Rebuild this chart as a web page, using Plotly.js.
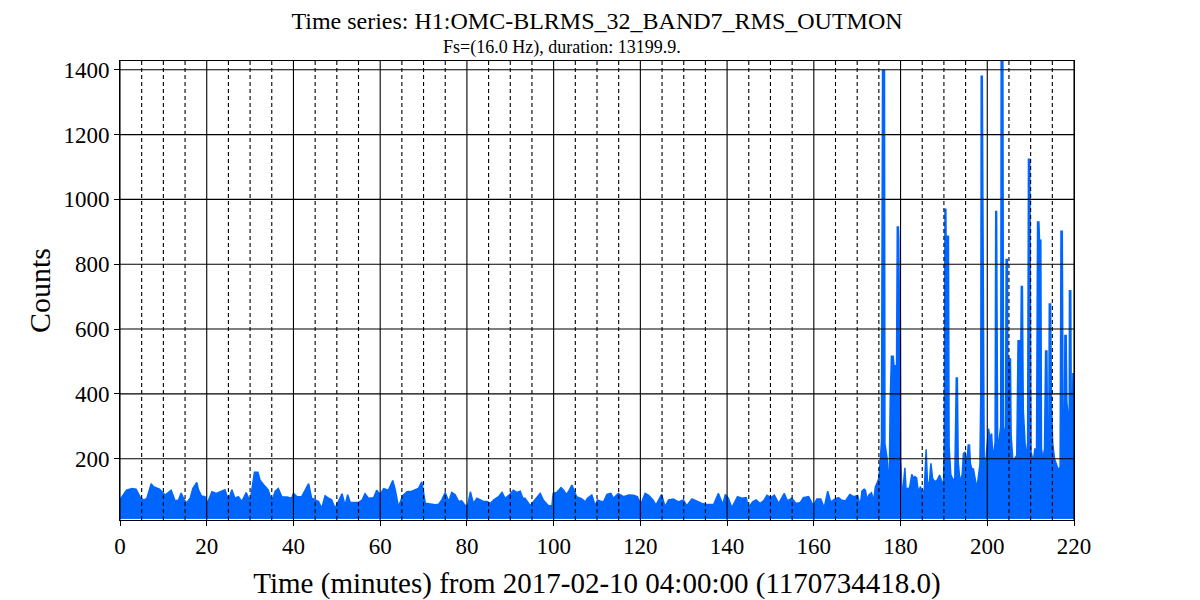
<!DOCTYPE html>
<html>
<head>
<meta charset="utf-8">
<script src="https://cdn.plot.ly/plotly-3.0.1.min.js"></script>
<style>html,body{margin:0;padding:0;background:#fff}#chart{width:1200px;height:600px}</style>
</head>
<body>
<div id="chart"></div>
<script>
// Upper envelope of the 16 Hz series (minutes, counts)
const upperTime = [
0.0,0.2,1.5,2.8,3.7,4.6,5.4,6.2,7.2,7.7,9.1,10.4,11.8,12.7,13.5,14.1,14.8,15.4,16.2,16.8,17.7,18.1,18.8,19.6,
20.1,21.2,22.2,23.1,24.2,25.0,25.8,26.5,27.3,28.1,29.1,30.0,31.0,31.8,32.3,33.5,34.2,35.0,35.8,36.5,37.3,38.5,39.6,
40.0,40.8,41.9,43.5,44.2,45.0,45.8,46.5,47.3,48.1,48.8,49.6,50.4,51.2,51.9,52.5,53.1,54.2,55.0,55.8,56.5,57.3,58.5,59.2,
60.0,60.8,61.9,62.9,63.5,64.2,65.2,66.2,67.3,68.8,69.6,70.4,71.4,72.7,73.5,74.2,75.0,75.8,76.5,77.3,78.1,78.8,79.6,
80.2,80.8,81.5,82.3,83.1,83.8,84.6,85.4,86.2,87.3,88.1,88.8,89.6,90.7,91.5,92.3,92.9,93.4,94.6,95.3,96.1,96.9,97.6,98.8,99.6,
99.9,100.7,101.7,102.3,102.9,103.4,104.2,104.7,105.3,106.5,107.3,107.8,108.8,109.6,110.1,110.7,111.5,112.3,113.2,113.8,114.9,
116.1,117.3,118.4,119.3,120.1,121.1,121.9,122.9,123.6,124.9,125.7,126.5,127.6,128.8,129.9,130.7,131.9,133.0,134.2,135.3,136.9,
138.0,139.0,139.6,140.3,141.1,142.4,143.4,144.4,144.9,145.9,146.7,147.6,148.4,149.2,150.1,150.9,151.9,153.2,153.9,154.9,155.9,
156.9,157.6,158.8,159.9,160.7,161.6,162.4,163.2,163.9,164.9,165.7,166.3,167.3,168.3,169.2,170.1,170.7,171.1,171.6,171.9,172.3,
172.7,173.3,173.8,174.2,174.7,175.0,175.3,175.6,175.85,176.3,176.4,176.6,176.9,177.2,177.4,177.6,177.9,178.3,178.5,178.9,179.0,
179.25,179.5,179.6,179.75,179.95,180.05,180.3,180.6,181.0,181.3,181.7,182.0,182.6,183.0,183.3,183.7,184.1,184.6,185.1,185.5,
185.9,186.2,186.6,187.0,187.4,187.9,188.5,189.0,189.5,189.9,190.1,190.25,190.45,190.6,190.75,191.05,191.2,191.6,192.0,192.5,
192.85,193.1,193.3,193.7,194.2,194.5,194.9,195.3,195.6,195.9,196.1,196.4,196.8,197.2,197.6,198.0,198.3,198.5,198.6,198.85,
199.0,199.15,199.3,199.7,200.1,200.3,200.6,201.0,201.3,201.8,201.95,202.15,202.4,202.8,203.1,203.2,203.6,203.75,204.2,204.35,
204.65,204.8,205.1,205.35,205.5,205.9,206.3,206.8,207.1,207.45,207.6,207.85,208.1,208.3,208.6,208.9,209.3,209.5,209.8,209.95,
210.1,210.6,211.0,211.35,211.6,211.9,212.05,212.35,212.5,212.8,213.2,213.45,213.75,213.9,214.2,214.3,214.6,214.8,215.1,215.5,
215.9,216.4,216.8,217.0,217.3,217.5,217.8,217.9,218.2,218.35,218.9,218.95,219.25,219.4,219.6,219.75,220.0
];
const upperCounts = [
70,78,103,108,106,83,72,78,123,114,106,88,103,70,73,94,73,64,79,108,127,104,85,83,
62,98,93,98,104,72,104,78,83,68,96,68,158,158,134,114,103,68,100,108,83,82,78,
93,83,83,123,78,73,68,47,86,78,73,47,70,92,57,89,65,64,65,72,92,78,80,103,
89,108,103,133,103,52,86,98,100,108,129,63,60,58,60,73,96,68,96,89,68,70,56,
56,98,62,78,73,68,68,62,73,83,96,78,86,103,96,100,78,78,55,67,80,93,73,55,55,
93,96,111,103,90,98,119,103,83,76,67,78,88,55,73,70,67,90,93,78,93,
83,88,87,83,59,93,87,73,57,90,52,73,76,67,73,55,76,70,62,59,59,
93,59,90,78,49,83,78,80,49,67,73,62,70,87,80,88,62,93,70,78,62,
65,80,83,55,76,76,49,100,67,76,80,73,70,90,83,87,55,100,106,103,73,
88,95,70,114,129,140,191,252,1398,1398,247,232,201,140,130,370,516,516,487,487,300,
915,915,878,629,629,201,99,110,172,99,110,104,152,139,145,141,98,114,83,110,
229,129,120,186,139,129,135,150,130,119,250,970,970,700,886,886,237,150,139,130,
449,449,191,130,150,216,221,180,242,242,186,170,168,139,109,150,181,400,1380,1380,
902,902,160,200,250,293,263,278,200,250,963,963,220,280,300,1430,1430,300,260,815,
815,300,508,508,273,196,200,210,564,564,300,731,731,355,273,200,250,1124,1124,400,
221,191,232,200,930,930,874,874,232,200,230,532,532,230,300,677,677,365,247,200,
181,165,175,902,902,250,300,580,580,375,300,718,718,263,300,462,462
];
// Lower envelope (minutes, counts)
const lowerTime = [0, 30, 60, 90, 120, 150, 180, 200, 220];
const lowerCounts = [16, 15, 16, 16, 15, 16, 16, 15, 16];

// Axis ticks
const xMajorTicks = [0,20,40,60,80,100,120,140,160,180,200,220];
const xMinorTicks = [5,10,15,25,30,35,45,50,55,65,70,75,85,90,95,105,110,115,125,130,135,145,150,155,165,170,175,185,190,195,205,210,215];
const yMajorTicks = [200,400,600,800,1000,1200,1400];

const BLUE = '#0066ff';
const FONT = 'Liberation Serif, DejaVu Serif, serif';

const traces = [
  {x: lowerTime, y: lowerCounts, type: 'scatter', mode: 'lines',
   line: {color: BLUE, width: 1}, hoverinfo: 'skip', showlegend: false},
  {x: upperTime, y: upperCounts, type: 'scatter', mode: 'lines', fill: 'tonexty',
   fillcolor: BLUE, line: {color: BLUE, width: 1.5}, showlegend: false}
];

const shapes = [];
xMajorTicks.forEach(v => shapes.push({type:'line', xref:'x', yref:'paper', x0:v, x1:v, y0:0, y1:1,
  layer:'above', line:{color:'#000', width:1.1}}));
xMinorTicks.forEach(v => shapes.push({type:'line', xref:'x', yref:'paper', x0:v, x1:v, y0:0, y1:1,
  layer:'above', line:{color:'#000', width:1.1, dash:'4px,3px'}}));
yMajorTicks.forEach(v => shapes.push({type:'line', xref:'paper', yref:'y', x0:0, x1:1, y0:v, y1:v,
  layer:'above', line:{color:'#000', width:1.1}}));

const layout = {
  width: 1200, height: 600,
  margin: {l: 120, r: 126, t: 61, b: 80},
  paper_bgcolor: '#fff', plot_bgcolor: '#fff',
  font: {family: FONT, color: '#000'},
  title: {text: 'Time series: H1:OMC-BLRMS_32_BAND7_RMS_OUTMON', font: {family: FONT, size: 24, color: '#000'},
          x: 0.5, xref: 'paper', xanchor: 'center', y: 0.965, yref: 'container', yanchor: 'middle'},
  annotations: [{text: 'Fs=(16.0 Hz), duration: 13199.9.', xref: 'paper', yref: 'paper', x: 0.4633, y: 1.0305,
                 xanchor: 'center', yanchor: 'middle', showarrow: false, font: {family: FONT, size: 18, color: '#000'}}],
  xaxis: {range: [0, 220], tickvals: xMajorTicks, ticktext: xMajorTicks.map(String),
          showgrid: false, zeroline: false, showline: true, mirror: true, linecolor: '#000', linewidth: 1,
          ticks: 'outside', ticklen: 5, tickcolor: '#000', tickfont: {family: FONT, size: 23},
          title: {text: 'Time (minutes) from 2017-02-10 04:00:00 (1170734418.0)', font: {family: FONT, size: 29}},
          automargin: false},
  yaxis: {range: [11, 1427], tickvals: yMajorTicks, ticktext: yMajorTicks.map(String),
          showgrid: false, zeroline: false, showline: true, mirror: true, linecolor: '#000', linewidth: 1,
          ticks: 'outside', ticklen: 5, tickcolor: '#000', tickfont: {family: FONT, size: 23},
          title: {text: 'Counts', font: {family: FONT, size: 30}},
          automargin: false},
  shapes: shapes
};

Plotly.newPlot('chart', traces, layout, {displayModeBar: false, staticPlot: true});
</script>
</body>
</html>
